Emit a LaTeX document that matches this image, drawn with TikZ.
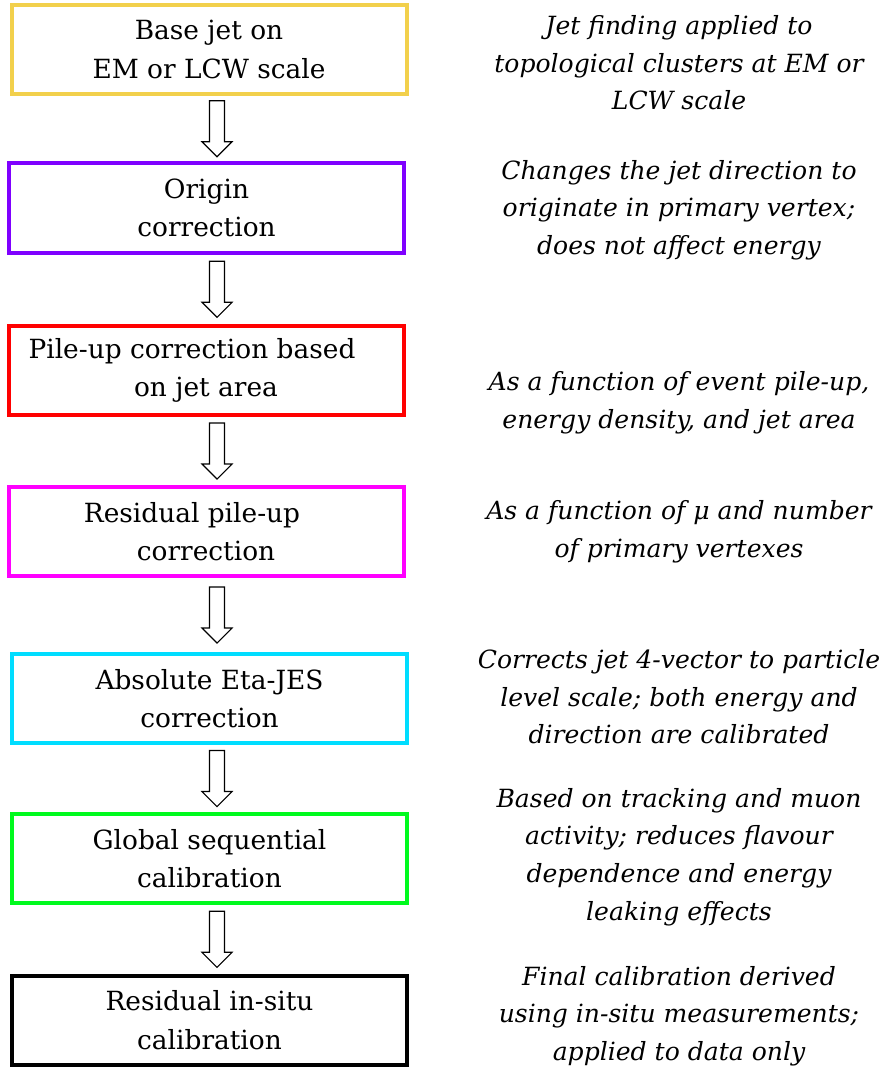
\documentclass[tikz,border=0pt]{standalone}
\usepackage{fontspec}
\setmainfont{DejaVu Serif}
\usetikzlibrary{calc}
\definecolor{cyel}{RGB}{242,208,76}
\definecolor{cpur}{RGB}{127,0,255}
\definecolor{cred}{RGB}{255,0,0}
\definecolor{cmag}{RGB}{255,0,255}
\definecolor{ccya}{RGB}{0,221,255}
\definecolor{cgrn}{RGB}{0,250,30}
\newcommand{\blkarrow}[1]{%
  \draw[blk] ([shift={(-7.5,-28)}]#1) -- ([shift={(7.5,-28)}]#1) -- ([shift={(7.5,13)}]#1)
    -- ([shift={(15,13)}]#1) -- ([shift={(0,28)}]#1) -- ([shift={(-15,13)}]#1)
    -- ([shift={(-7.5,13)}]#1) -- cycle;}
\begin{document}
\begin{tikzpicture}[x=0.75pt,y=-0.75pt,
  stepbox/.style={draw, line width=3pt, minimum width=395*0.75pt, minimum height=89*0.75pt,
    inner sep=0pt, align=center, font=\fontsize{19.8}{29}\selectfont},
  note/.style={align=center, inner sep=0pt, font=\fontsize{18.8}{28.2}\selectfont\itshape},
  blk/.style={draw=black, line width=0.8pt, fill=white, line join=miter}]
\useasboundingbox (0,0) rectangle (888,1077);
\node[stepbox, draw=cyel] (b1) at (209,49.5) {Base jet on\\EM or LCW scale};
\node[stepbox, draw=cpur] (b2) at (206.5,208) {Origin\\correction};
\node[stepbox, draw=cred] (b3) at (206,370.5) {Pile-up correction based\hspace*{21pt}\\on jet area};
\node[stepbox, draw=cmag] (b4) at (206,531.5) {Residual pile-up\hspace*{21pt}\\correction};
\node[stepbox, draw=ccya] (b5) at (209.5,698.5) {Absolute Eta-JES\\correction};
\node[stepbox, draw=cgrn] (b6) at (209.5,858.5) {Global sequential\\calibration};
\node[stepbox, draw=black] (b7) at (209.5,1020) {Residual in-situ\\calibration};
\node[note] (n1) at (679,63) {Jet finding applied to\\topological clusters at EM or\\LCW scale};
\node[note] (n2) at (679,210) {Changes the jet direction to\\originate in primary vertex;\\does not affect energy};
\node[note] (n3) at (679,403) {As a function of event pile-up,\\energy density, and jet area};
\node[note] (n4) at (679,532) {As a function of μ and number\\of primary vertexes};
\node[note] (n5) at (679,697) {Corrects jet 4-vector to particle\\level scale; both energy and\\direction are calibrated};
\node[note] (n6) at (679,857) {Based on tracking and muon\\activity; reduces flavour\\dependence and energy\\leaking effects};
\node[note] (n7) at (679,1016) {Final calibration derived\\using in-situ measurements;\\applied to data only};
\coordinate (ax) at (217,0);
\foreach \i/\j in {1/2,2/3,3/4,4/5,5/6,6/7}{
  \path ($(b\i.south)!0.5!(b\j.north)$) coordinate (m\i);
  \coordinate (a\i) at (m\i -| ax);
  \blkarrow{a\i}
}
\end{tikzpicture}
\end{document}
